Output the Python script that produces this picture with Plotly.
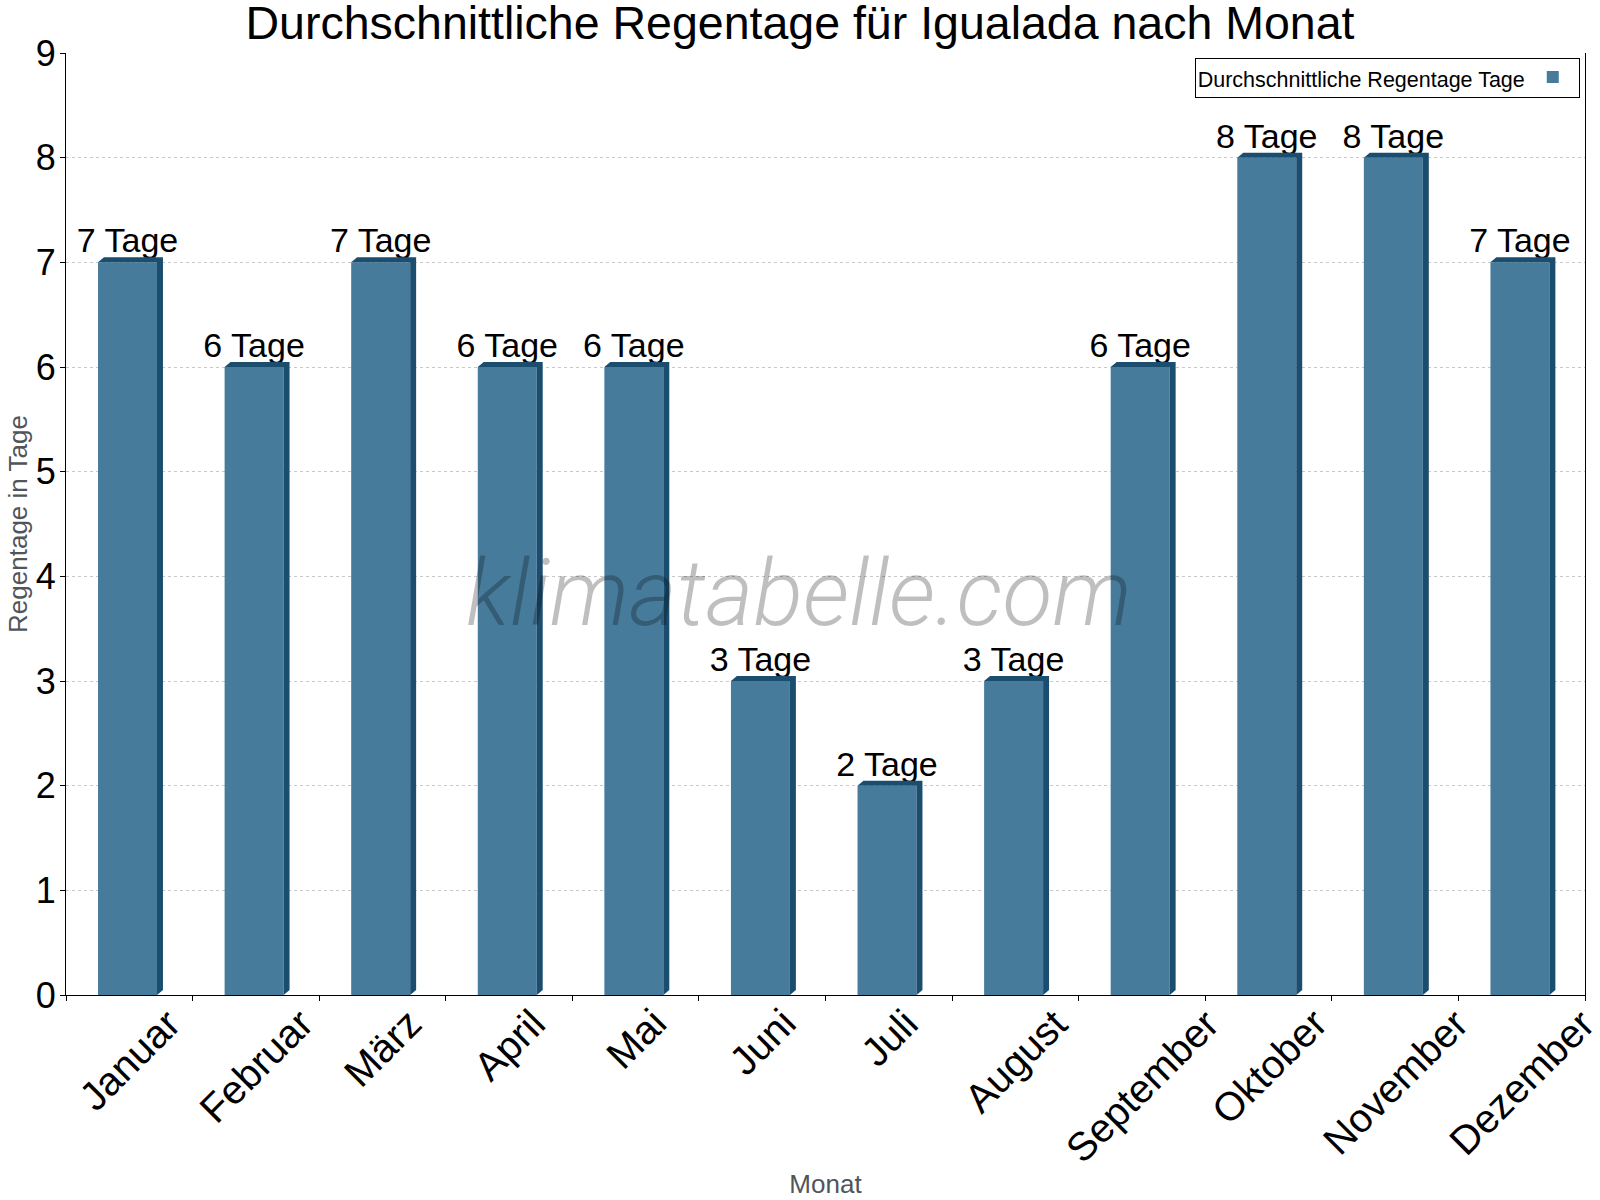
import plotly.graph_objects as go

months = ["Januar", "Februar", "März", "April", "Mai", "Juni", "Juli",
          "August", "September", "Oktober", "November", "Dezember"]
rain_days = [7, 6, 7, 6, 6, 3, 2, 3, 6, 8, 8, 7]
labels = [f"{v} Tage" for v in rain_days]

FRONT = "#477b9c"
DARK = "#1b4d6e"
FONT = "Liberation Sans, Arial, sans-serif"

BAR_W = 0.466
BAR_OFF = -0.247
DX = 0.047   # depth in category units
DY = 0.048   # depth in y units

fig = go.Figure()
fig.add_trace(go.Bar(
    x=months, y=rain_days, name="",
    width=BAR_W, offset=BAR_OFF,
    marker=dict(color=FRONT, line=dict(width=0)),
    text=labels, textposition="outside", constraintext="none",
    textfont=dict(size=34, color="black", family=FONT),
    cliponaxis=False, showlegend=True,
))

shapes = []
for i, v in enumerate(rain_days):
    xl = i + BAR_OFF
    xr = xl + BAR_W
    path = (f"M {xl},{v} L {xl+DX},{v+DY} L {xr+DX},{v+DY} "
            f"L {xr+DX},{DY} L {xr},0 L {xr},{v} Z")
    shapes.append(dict(type="path", xref="x", yref="y", path=path,
                       fillcolor=DARK, line=dict(width=0), layer="above"))

annotations = []
for m in months:
    annotations.append(dict(
        text=m, xref="x", yref="paper", x=m, y=-3 / 942,
        xanchor="center", yanchor="top", textangle=-45, showarrow=False,
        font=dict(size=40, color="black", family=FONT),
    ))

annotations.append(dict(
    text="klimatabelle.com", xref="paper", yref="paper",
    x=0.4826, y=0.426, xanchor="center", yanchor="middle", showarrow=False,
    font=dict(size=92, color="rgba(0,0,0,0.25)", family="Roboto",
              style="italic", weight=300),
))

fig.update_layout(
    width=1600, height=1200,
    paper_bgcolor="white", plot_bgcolor="white",
    margin=dict(l=66, r=15, t=53, b=205),
    font=dict(family=FONT, color="black"),
    title=dict(text="Durchschnittliche Regentage für Igualada nach Monat",
               x=0.5, xanchor="center", y=1 - 22.5 / 1200, yanchor="middle",
               yref="container", font=dict(size=46.5, color="black", family=FONT)),
    showlegend=True,
    legend=dict(x=0.9965, xanchor="right", y=0.995, yanchor="top",
                bgcolor="white", bordercolor="black", borderwidth=1,
                title=dict(text="Durchschnittliche Regentage Tage", side="left",
                           font=dict(size=21.5, color="black", family=FONT)),
                font=dict(size=18), itemwidth=30, valign="middle"),
    shapes=shapes,
    annotations=annotations,
)

fig.update_xaxes(
    type="category", tickson="boundaries", ticks="outside", ticklen=5,
    tickcolor="black", showline=True, linecolor="black", linewidth=1,
    showticklabels=False, showgrid=False, range=[-0.5, 11.5],
    automargin=False,
    title=dict(text="Monat", font=dict(size=26, color="#50555a", family=FONT),
               standoff=179),
)
fig.update_yaxes(
    range=[0, 9], dtick=1, tick0=0, ticks="outside", ticklen=5,
    tickcolor="black", showline=True, linecolor="black", linewidth=1,
    mirror=True, zeroline=False, automargin=False,
    showgrid=True, gridcolor="#c8c8c8", griddash="3px,3px", gridwidth=1,
    tickfont=dict(size=36, color="black", family=FONT), ticklabelstandoff=-3,
    title=dict(text="Regentage in Tage",
               font=dict(size=26, color="#50555a", family=FONT), standoff=0),
)

fig.write_html("out.html")
